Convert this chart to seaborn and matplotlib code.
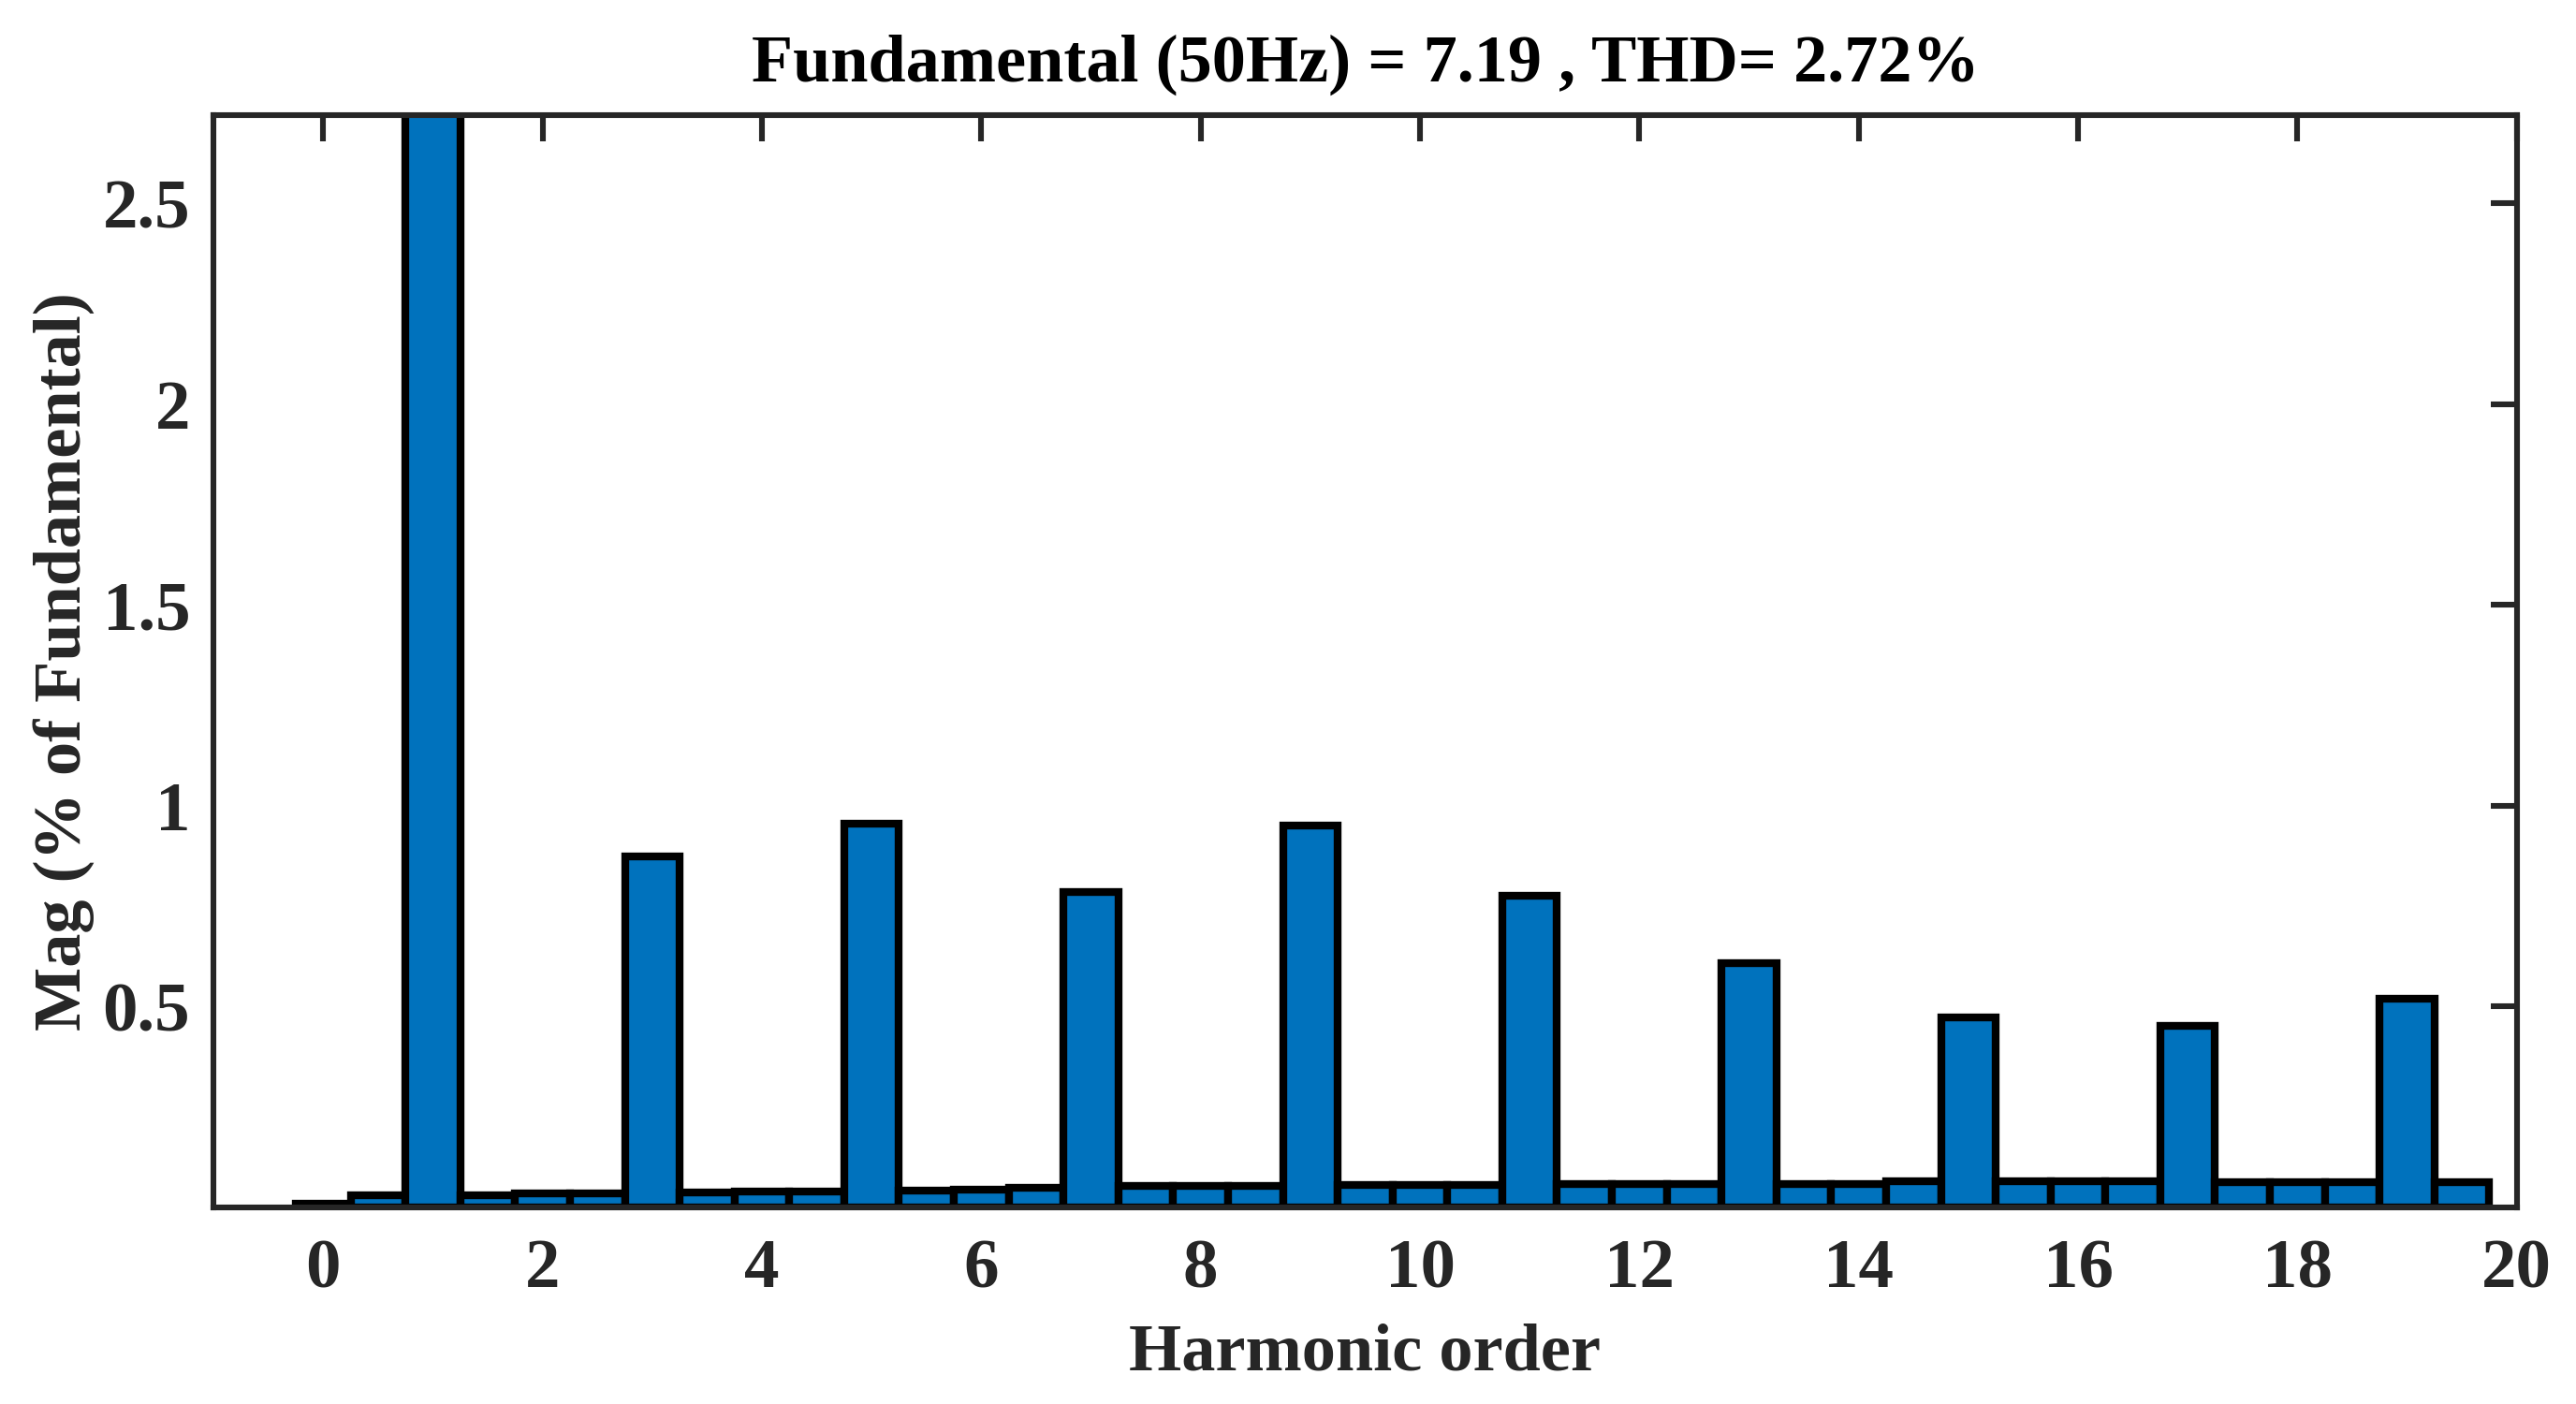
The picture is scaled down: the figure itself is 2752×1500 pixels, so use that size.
import pandas as pd
import seaborn as sns
import matplotlib
matplotlib.use('Agg')
import matplotlib.pyplot as plt

# ---------------------------------------------------
# data
# ---------------------------------------------------
harmonic_order = [0, 0.5, 1, 1.5, 2, 2.5, 3, 3.5, 4, 4.5,
                  5, 5.5, 6, 6.5, 7, 7.5, 8, 8.5, 9, 9.5,
                  10, 10.5, 11, 11.5, 12, 12.5, 13, 13.5, 14, 14.5,
                  15, 15.5, 16, 16.5, 17, 17.5, 18, 18.5, 19, 19.5]
mag_pct = [0.010, 0.030, 100.0, 0.030, 0.034, 0.034, 0.875, 0.038, 0.040, 0.040,
           0.955, 0.043, 0.044, 0.050, 0.786, 0.053, 0.053, 0.053, 0.950, 0.056,
           0.056, 0.056, 0.776, 0.059, 0.059, 0.059, 0.608, 0.059, 0.059, 0.065,
           0.474, 0.065, 0.065, 0.065, 0.452, 0.063, 0.063, 0.063, 0.520, 0.063]
x_ticks = [0, 2, 4, 6, 8, 10, 12, 14, 16, 18, 20]
y_ticks = [0.5, 1, 1.5, 2, 2.5]
y_max = 2.72   # THD value, MATLAB clips the axis there

title_txt = 'Fundamental (50Hz) = 7.19 , THD= 2.72%'

df = pd.DataFrame({'Order': harmonic_order, 'Mag': mag_pct})

# ---------------------------------------------------
# style
# ---------------------------------------------------
sns.set_style('white')
plt.rcParams['font.family'] = ['Liberation Serif', 'DejaVu Serif']
plt.rcParams['font.weight'] = 'bold'
plt.rcParams['axes.labelweight'] = 'bold'
plt.rcParams['axes.titleweight'] = 'bold'

axis_col = '#262626'

fig = plt.figure(figsize=(13.76, 7.5), dpi=200)
ax = fig.add_axes([0.0829, 0.14, 0.977 - 0.0829, 0.918 - 0.14])

sns.barplot(
    data=df,
    x='Order',
    y='Mag',
    native_scale=True,
    width=1.0,
    color='#0072BD',
    saturation=1,
    edgecolor='black',
    linewidth=3,
    errorbar=None,
    ax=ax
)

ax.set_xlim(-1, 20)
ax.set_ylim(0, y_max)
ax.set_xticks(x_ticks)
ax.set_xticklabels([str(t) for t in x_ticks])
ax.set_yticks(y_ticks)
ax.set_yticklabels(['0.5', '1', '1.5', '2', '2.5'])

ax.tick_params(axis='both', direction='in', length=10, width=2.2, colors=axis_col,
               labelsize=27, top=True, right=True)
ax.tick_params(axis='x', pad=12)
ax.tick_params(axis='y', pad=9)
for lab in ax.get_xticklabels() + ax.get_yticklabels():
    lab.set_fontweight('bold')
    lab.set_color(axis_col)

for sp in ax.spines.values():
    sp.set_visible(True)
    sp.set_linewidth(2.2)
    sp.set_color(axis_col)

ax.set_title(title_txt, fontsize=26, fontweight='bold', color='black', pad=13)
ax.set_xlabel('Harmonic order', fontsize=26, fontweight='bold', color=axis_col, labelpad=8)
ax.set_ylabel('Mag (% of Fundamental)', fontsize=26, fontweight='bold', color=axis_col, labelpad=3)

fig.savefig('out.png', dpi=200, facecolor='white')
